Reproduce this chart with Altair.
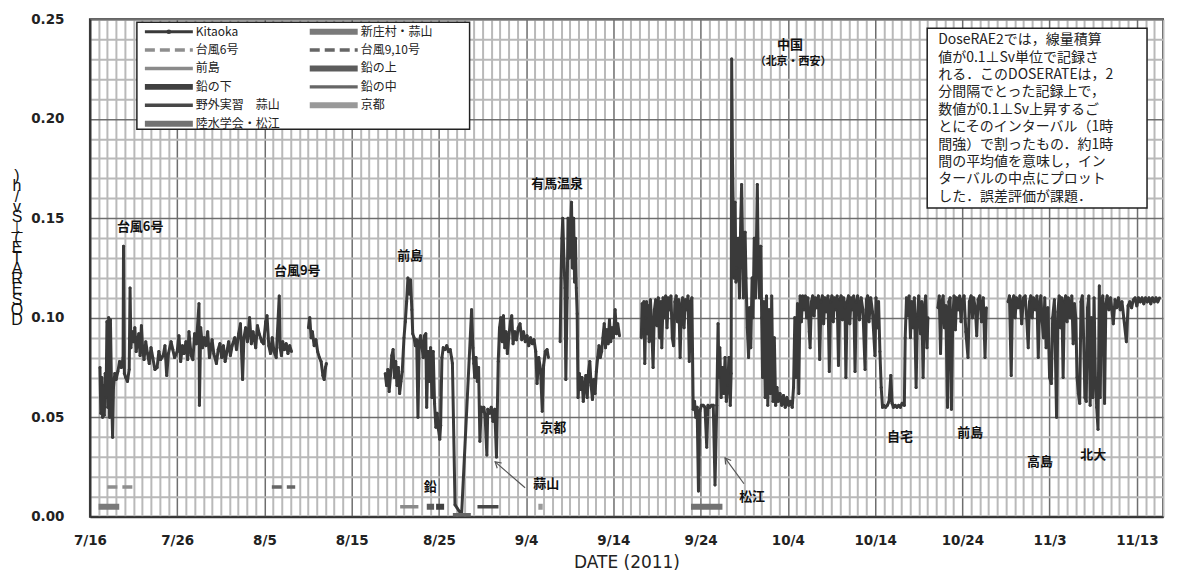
import altair as alt
import pandas as pd

BASE = pd.Timestamp("2011-07-16")

# ---- Kitaoka DOSERATE (uSv/h); (days after 2011-07-16 00:00, value) per continuous segment
seg1 = [(1.15,0.075),(1.25,0.052),(1.35,0.070),(1.45,0.050),(1.55,0.066),(1.65,0.051),(1.75,0.072),(1.85,0.060),
        (1.95,0.098),(2.05,0.055),(2.15,0.100),(2.25,0.050),(2.35,0.099),(2.5,0.058),(2.6,0.040),(2.7,0.065),
        (2.85,0.072),(3.0,0.069),(3.2,0.073),(3.4,0.078),(3.6,0.075),(3.8,0.080),(3.85,0.136),(3.95,0.072),
        (4.1,0.070),(4.3,0.068),(4.5,0.074),(4.6,0.115),(4.7,0.085),(4.85,0.093),(5.0,0.088),(5.15,0.095),
        (5.3,0.083),(5.45,0.088),(5.6,0.092),(5.75,0.081),(5.9,0.096),(6.05,0.084),(6.2,0.079),(6.4,0.088),
        (6.6,0.082),(6.8,0.077),(7.0,0.085),(7.2,0.080),(7.45,0.074),(7.7,0.075),(7.9,0.083),(8.1,0.079),
        (8.4,0.081),(8.6,0.086),(8.8,0.071),(9.0,0.082),(9.3,0.088),(9.5,0.084),(9.7,0.080),(10.0,0.083),
        (10.2,0.091),(10.4,0.078),(10.6,0.086),(10.8,0.082),(11.0,0.088),(11.2,0.079),(11.35,0.093),(11.6,0.081),
        (11.8,0.079),(12.0,0.092),(12.2,0.087),(12.5,0.107),(12.55,0.056),(12.7,0.095),(12.9,0.085),(13.1,0.090),
        (13.3,0.086),(13.5,0.093),(13.7,0.080),(14.0,0.089),(14.2,0.082),(14.5,0.077),(14.7,0.084),(14.9,0.087),
        (15.1,0.080),(15.3,0.086),(15.5,0.078),(15.7,0.083),(15.9,0.088),(16.1,0.081),(16.3,0.086),(16.6,0.090),
        (16.8,0.084),(17.05,0.092),(17.25,0.097),(17.5,0.069),(17.65,0.090),(17.85,0.095),(18.05,0.088),(18.3,0.100),
        (18.5,0.087),(18.7,0.093),(19.0,0.085),(19.2,0.096),(19.4,0.092),(19.7,0.088),(19.9,0.087),(20.15,0.098),
        (20.3,0.101),(20.5,0.086),(20.7,0.082),(20.9,0.090),(21.1,0.083),(21.35,0.080),(21.7,0.111),(21.8,0.085),
        (21.95,0.081),(22.1,0.088),(22.3,0.084),(22.5,0.087),(22.7,0.082),(22.9,0.086),(23.1,0.083)]
seg2 = [(25.05,0.095),(25.2,0.100),(25.35,0.090),(25.5,0.093),(25.7,0.086),(25.9,0.089),(26.1,0.083),
        (26.3,0.080),(26.5,0.078),(26.7,0.071),(26.85,0.069),(27.0,0.075),(27.1,0.077)]
seg3 = [(33.85,0.072),(34.0,0.066),(34.15,0.074),(34.3,0.063),(34.45,0.071),(34.6,0.081),(34.75,0.084),(34.9,0.070),
        (35.05,0.078),(35.2,0.066),(35.35,0.075),(35.5,0.062),(35.65,0.068),(35.8,0.073),(36.0,0.090),(36.15,0.098),
        (36.3,0.108),(36.45,0.120),(36.6,0.112),(36.75,0.119),(36.9,0.104),(37.0,0.092),(37.15,0.090),(37.3,0.086),
        (37.45,0.089),(37.6,0.050),(37.75,0.088),(37.9,0.091),(38.05,0.086),(38.2,0.080),(38.35,0.091),(38.5,0.092),
        (38.6,0.055),(38.75,0.083),(38.9,0.068),(39.05,0.085),(39.2,0.060),(39.35,0.083),(39.5,0.057),(39.65,0.045),
        (39.8,0.052),(39.95,0.044),(40.1,0.039),(40.2,0.046),(40.35,0.080),(40.5,0.085),(40.7,0.084),(40.9,0.086),
        (41.1,0.083),(41.3,0.084),(41.45,0.080),(41.55,0.077),(41.85,0.006),(42.6,0.001),(43.75,0.104),(43.9,0.085),
        (44.0,0.077),(44.1,0.070),(44.25,0.080),(44.4,0.068),(44.55,0.075),(44.7,0.038),(44.85,0.055),(45.0,0.053),
        (45.15,0.055),(45.3,0.050),(45.5,0.031),(45.6,0.054),(45.8,0.052),(46.0,0.055),(46.2,0.048),(46.4,0.054),
        (46.6,0.030),(46.8,0.078),(46.95,0.095),(47.1,0.100),(47.25,0.088),(47.4,0.101),(47.55,0.085),(47.7,0.093),
        (47.85,0.082),(48.0,0.090),(48.2,0.098),(48.35,0.101),(48.5,0.087),(48.7,0.093),(48.9,0.089),(49.1,0.095),
        (49.3,0.097),(49.5,0.089),(49.7,0.093),(49.9,0.088),(50.1,0.091),(50.3,0.086),(50.5,0.090),(50.7,0.087),
        (50.9,0.089),(51.1,0.083),(51.25,0.067),(51.45,0.080),(51.65,0.074),(51.85,0.053),(52.0,0.076),(52.2,0.083),
        (52.4,0.084),(52.55,0.080)]
seg4 = [(53.9,0.088),(54.0,0.120),(54.1,0.140),(54.2,0.150),(54.3,0.134),(54.45,0.115),(54.55,0.069),(54.7,0.110),
        (54.8,0.150),(54.95,0.130),(55.05,0.142),(55.2,0.158),(55.3,0.125),(55.45,0.150),(55.55,0.118),(55.65,0.140),
        (55.75,0.115),(55.85,0.102),(55.95,0.060),(56.1,0.072),(56.25,0.064),(56.4,0.070),(56.55,0.058),(56.7,0.066),
        (56.85,0.071),(57.0,0.060),(57.15,0.073),(57.3,0.078),(57.45,0.066),(57.6,0.059),(57.75,0.069),(57.9,0.062),
        (58.05,0.073),(58.2,0.080),(58.35,0.086),(58.5,0.080),(58.65,0.083),(58.8,0.090),(58.95,0.097),(59.1,0.085),
        (59.25,0.094),(59.4,0.087),(59.55,0.099),(59.7,0.088),(59.85,0.095),(60.0,0.090),(60.2,0.104),(60.35,0.092),
        (60.5,0.097),(60.7,0.091)]
seg5 = [(63.2,0.090),(63.3,0.107),(63.4,0.094),(63.5,0.108),(63.6,0.077),(63.7,0.100),(63.8,0.108),(63.9,0.092),
        (64.0,0.106),(64.1,0.088),(64.25,0.109),(64.4,0.095),(64.55,0.075),(64.7,0.104),(64.85,0.109),(65.0,0.096),
        (65.15,0.110),(65.3,0.090),(65.45,0.108),(65.55,0.085),(65.7,0.110),(65.85,0.100),(66.0,0.111),(66.15,0.095),
        (66.3,0.110),(66.45,0.104),(66.6,0.111),(66.75,0.090),(66.9,0.086),(67.05,0.108),(67.2,0.111),(67.35,0.098),
        (67.5,0.109),(67.65,0.080),(67.8,0.106),(67.95,0.110),(68.1,0.095),(68.25,0.109),(68.4,0.104),(68.55,0.111),
        (68.7,0.078),(68.85,0.108),(69.0,0.110),(69.15,0.054),(69.3,0.058),(69.45,0.050),(69.6,0.055),(69.75,0.013),
        (69.9,0.053),(70.1,0.056),(70.3,0.056),(70.5,0.055),(70.7,0.035),(70.85,0.056),(71.05,0.055),(71.25,0.056),
        (71.45,0.056),(71.65,0.016),(71.85,0.056),(72.0,0.097),(72.1,0.070),(72.2,0.085),(72.35,0.060),(72.5,0.075),
        (72.65,0.062),(72.8,0.080),(72.95,0.058),(73.1,0.066),(73.25,0.080),(73.4,0.056),(73.5,0.072),(73.56,0.230),
        (73.65,0.180),(73.75,0.150),(73.85,0.120),(73.95,0.158),(74.05,0.118),(74.15,0.125),(74.3,0.140),(74.45,0.110),
        (74.6,0.150),(74.7,0.167),(74.8,0.140),(74.9,0.110),(75.0,0.135),(75.1,0.143),(75.2,0.120),(75.35,0.095),
        (75.5,0.080),(75.6,0.105),(75.75,0.085),(75.9,0.120),(76.0,0.100),(76.15,0.140),(76.3,0.110),(76.5,0.167),
        (76.6,0.130),(76.75,0.110),(76.9,0.136),(77.0,0.100),(77.1,0.070),(77.25,0.108),(77.4,0.060),(77.55,0.111),
        (77.7,0.056),(77.85,0.104),(78.0,0.062),(78.15,0.111),(78.3,0.058),(78.45,0.090),(78.6,0.056),(78.75,0.065),
        (78.9,0.058),(79.1,0.062),(79.3,0.056),(79.5,0.061),(79.7,0.055),(79.9,0.060),(80.1,0.056),(80.3,0.058),
        (80.5,0.055),(80.65,0.065),(80.8,0.100),(80.95,0.070),(81.1,0.107),(81.25,0.062),(81.4,0.111),(81.55,0.098),
        (81.7,0.111),(81.85,0.104),(82.0,0.111),(82.15,0.100),(82.3,0.110),(82.45,0.093),(82.55,0.085),(82.7,0.108),
        (82.85,0.111),(83.0,0.101),(83.15,0.110),(83.3,0.105),(83.5,0.111),(83.65,0.079),(83.8,0.108),(83.95,0.111),
        (84.1,0.097),(84.25,0.110),(84.4,0.103),(84.6,0.111),(84.75,0.073),(84.9,0.108),(85.05,0.111),(85.2,0.098),
        (85.35,0.110),(85.5,0.104),(85.65,0.111),(85.8,0.076),(85.95,0.109),(86.1,0.111),(86.25,0.099),(86.4,0.110),
        (86.55,0.105),(86.65,0.070),(86.8,0.108),(86.95,0.111),(87.1,0.097),(87.25,0.110),(87.4,0.104),(87.55,0.111),
        (87.7,0.073),(87.85,0.108),(88.0,0.111),(88.2,0.099),(88.4,0.110),(88.6,0.104),(88.85,0.074),(89.0,0.109),
        (89.15,0.111),(89.3,0.098),(89.5,0.110),(89.7,0.103),(89.98,0.081),(90.1,0.110),(90.25,0.095),(90.4,0.108),
        (90.55,0.083),(90.7,0.065),(90.85,0.055),(91.0,0.056),(91.2,0.055),(91.4,0.056),(91.6,0.058),(91.8,0.071),
        (91.95,0.057),(92.1,0.055),(92.3,0.056),(92.5,0.055),(92.7,0.056),(92.9,0.055),(93.1,0.057),(93.35,0.056),
        (93.45,0.090),(93.6,0.110),(93.75,0.101),(93.9,0.111),(94.05,0.090),(94.2,0.108),(94.35,0.095),(94.5,0.110),
        (94.7,0.065),(94.85,0.100),(95.0,0.111),(95.2,0.092),(95.35,0.108),(95.5,0.070),(95.65,0.105),(95.8,0.111),
        (95.95,0.085),(96.05,0.100)]
seg6 = [(97.2,0.105),(97.35,0.111),(97.5,0.082),(97.65,0.108),(97.8,0.111),(97.95,0.095),(98.1,0.106),(98.3,0.055),
        (98.45,0.108),(98.6,0.110),(98.75,0.054),(98.9,0.100),(99.05,0.111),(99.2,0.094),(99.35,0.110),(99.5,0.104),
        (99.7,0.111),(99.85,0.098),(100.0,0.109),(100.2,0.111),(100.4,0.093),(100.65,0.080),(100.8,0.108),(101.0,0.111),
        (101.15,0.100),(101.3,0.110),(101.5,0.104),(101.65,0.091),(101.8,0.109),(102.0,0.111),(102.2,0.098),(102.4,0.110),
        (102.6,0.080),(102.75,0.105)]
seg7 = [(105.25,0.108),(105.4,0.111),(105.6,0.071),(105.75,0.109),(105.9,0.111),(106.05,0.100),(106.2,0.110),
        (106.4,0.105),(106.6,0.111),(106.8,0.097),(107.0,0.110),(107.2,0.111),(107.35,0.102),(107.55,0.085),(107.7,0.108),
        (107.85,0.111),(108.0,0.100),(108.15,0.110),(108.35,0.104),(108.55,0.111),(108.7,0.080),(108.85,0.107),(109.0,0.111),
        (109.15,0.098),(109.3,0.090),(109.45,0.110),(109.6,0.085),(109.8,0.105),(110.0,0.070),(110.2,0.067),(110.35,0.100),
        (110.55,0.109),(110.8,0.050),(110.95,0.103),(111.1,0.111),(111.25,0.095),(111.4,0.110),(111.55,0.070),(111.7,0.108),
        (111.85,0.111),(112.0,0.098),(112.15,0.110),(112.35,0.100),(112.55,0.111),(112.7,0.087),(112.85,0.107),(113.0,0.100),
        (113.15,0.070),(113.3,0.062),(113.45,0.057),(113.6,0.108),(113.75,0.111),(113.9,0.090),(114.05,0.060),(114.2,0.058),
        (114.35,0.105),(114.5,0.111),(114.65,0.056),(114.8,0.100),(114.95,0.060),(115.1,0.110),(115.25,0.070),(115.4,0.055),
        (115.55,0.044),(115.7,0.116),(115.8,0.060),(115.95,0.108),(116.1,0.111),(116.3,0.057),(116.45,0.107),(116.6,0.111),
        (116.8,0.104),(117.0,0.110),(117.3,0.097),(117.5,0.109),(117.7,0.105),(117.9,0.110),(118.1,0.104),(118.3,0.108),
        (118.5,0.100),(118.8,0.088),(119.0,0.106),(119.2,0.108),(119.4,0.105),(119.6,0.109),(119.8,0.110),(120.0,0.106),
        (120.2,0.110),(120.4,0.108),(120.6,0.110),(120.8,0.107),(121.0,0.110),(121.2,0.108),(121.4,0.110),(121.6,0.107),
        (121.8,0.110),(122.0,0.108),(122.2,0.110),(122.4,0.108),(122.6,0.110)]
kitaoka_segments = [seg1, seg2, seg3, seg4, seg5, seg6, seg7]

# ---- legend series
series_names = ["Kitaoka", "新庄村・蒜山", "台風6号", "台風9,10号", "前島", "鉛の上",
                "鉛の下", "鉛の中", "野外実習　蒜山", "京都", "陸水学会・松江"]
series_colors = ["#3a3a3a", "#7a7a7a", "#8e8e8e", "#666666", "#8a8a8a", "#5c5c5c",
                 "#404040", "#666666", "#474747", "#999999", "#727272"]
series_widths = [3, 6, 3.5, 3.5, 3.5, 6, 6, 3.5, 3.5, 6, 6]
series_dashes = [[1, 0], [1, 0], [10, 5], [10, 5], [1, 0], [1, 0],
                 [1, 0], [1, 0], [1, 0], [1, 0], [1, 0]]

# ---- event periods (bars near the bottom)
event_names = ["新庄村・蒜山", "台風6号", "台風9,10号", "前島", "鉛の上", "鉛の下",
               "鉛の中", "野外実習　蒜山", "京都", "陸水学会・松江"]
event_start = [0.99, 2.0, 20.85, 35.56, 38.61, 39.68, 41.6, 44.42, 51.4, 68.9]
event_end = [3.36, 5.08, 23.53, 37.65, 39.45, 40.6, 43.66, 46.83, 51.9, 72.5]
event_level = [0.005, 0.015, 0.015, 0.005, 0.005, 0.005, 0.001, 0.005, 0.005, 0.005]

# ---- annotations
annot_text = ["台風6号", "台風9号", "前島", "有馬温泉", "中国", "（北京・西安）", "京都",
              "蒜山", "鉛", "松江", "自宅", "前島", "高島", "北大"]
annot_day = [5.76, 23.77, 36.7, 53.55, 80.25, 80.6, 53.1, 52.3, 39.0, 75.9, 92.85, 100.9, 108.9, 115.0]
annot_val = [0.1456, 0.1235, 0.131, 0.167, 0.237, 0.2284, 0.0447, 0.0166, 0.0151, 0.010,
             0.040, 0.042, 0.0276, 0.0311]
annot_fs = [13, 13, 13, 13, 13, 11, 13, 13, 13, 13, 13, 13, 13, 13]

arrow_tip_day = [46.45, 72.8]
arrow_tip_val = [0.0276, 0.0296]
arrow_tail_day = [49.88, 74.97]
arrow_tail_val = [0.0146, 0.0166]
arrow_angle = [311, 324]

note_lines = ["DoseRAE2では，線量積算",
              "値が0.1⊥Sv単位で記録さ",
              "れる．このDOSERATEは，2",
              "分間隔でとった記録上で，",
              "数値が0.1⊥Sv上昇するご",
              "とにそのインターバル（1時",
              "間強）で割ったもの．約1時",
              "間の平均値を意味し，イン",
              "ターバルの中点にプロット",
              "した．誤差評価が課題．"]
ytitle_chars = [")", "h", "/", "v", "S", "⊥", "(", "E", "T", "A", "R", "E", "S", "O", "D"]


def to_date(d):
    return BASE + pd.to_timedelta(d, unit="D")


rows = []
for i, seg in enumerate(kitaoka_segments):
    for d, v in seg:
        rows.append({"date": to_date(d), "value": v, "series": "Kitaoka", "seg": i})
kit_df = pd.DataFrame(rows)

ev_df = pd.DataFrame({"series": event_names,
                      "start": [to_date(d) for d in event_start],
                      "end": [to_date(d) for d in event_end],
                      "level": event_level})
ann_df = pd.DataFrame({"label": annot_text, "date": [to_date(d) for d in annot_day],
                       "value": annot_val, "fs": annot_fs})
arr_df = pd.DataFrame({"tip": [to_date(d) for d in arrow_tip_day], "tip_val": arrow_tip_val,
                       "tail": [to_date(d) for d in arrow_tail_day], "tail_val": arrow_tail_val,
                       "ang": arrow_angle})
one = pd.DataFrame({"k": [1]})

# legend entries laid out in a 2-column grid (layout only; pixel offsets inside the plot area)
leg_df = pd.DataFrame({"series": series_names, "idx": list(range(len(series_names)))})
leg_df["col"] = leg_df["idx"] % 2
leg_df["row"] = leg_df["idx"] // 2
leg_df["sx"] = 55 + leg_df["col"] * 165
leg_df["sx2"] = leg_df["sx"] + 48
leg_df["mx"] = leg_df["sx"] + 24
leg_df["lx"] = leg_df["sx"] + 51
leg_df["ly"] = 12.5 + leg_df["row"] * 18.4

xscale = alt.Scale(domain=[alt.DateTime(year=2011, month=7, date=16),
                           alt.DateTime(year=2011, month=11, date=16)])
yscale = alt.Scale(domain=[0, 0.25], nice=False)

major_x = "(dayofyear(datum.value) - 197) % 10 == 0"
major_y = "round(datum.value * 100) % 5 == 0"

x_axis = alt.Axis(
    title="DATE (2011)", tickCount={"interval": "day", "step": 1},
    labelExpr=f"{major_x} ? timeFormat(datum.value, '%-m/%-d') : ''",
    gridColor={"condition": {"test": major_x, "value": "#6e6e6e"}, "value": "#b9b9b9"},
    gridWidth={"condition": {"test": major_x, "value": 1.5}, "value": 2},
    ticks=False, tickSize=0, labelPadding=17, labelOverlap=False, labelFlush=False,
    labelFont="DejaVu Sans", labelFontSize=13.5, labelFontWeight="bold", labelColor="#222222",
    titleFont="DejaVu Sans", titleFontSize=17, titleFontWeight="normal", titleColor="#222222",
    titlePadding=7, domainColor="#333333", domainWidth=2,
)
y_axis = alt.Axis(
    title=None, values=[round(i * 0.01, 2) for i in range(26)],
    labelExpr=f"{major_y} ? format(datum.value, '.2f') : ''",
    gridColor={"condition": {"test": major_y, "value": "#6e6e6e"}, "value": "#b9b9b9"},
    gridWidth={"condition": {"test": major_y, "value": 1.5}, "value": 2},
    ticks=False, tickSize=0, labelPadding=26, labelOverlap=False, labelFlush=False,
    labelFont="DejaVu Sans", labelFontSize=13.5, labelFontWeight="bold", labelColor="#222222",
    domainColor="#333333", domainWidth=2,
)

color_enc = alt.Color("series:N", scale=alt.Scale(domain=series_names, range=series_colors), legend=None)
dash_enc = alt.StrokeDash("series:N", scale=alt.Scale(domain=series_names, range=series_dashes), legend=None)
width_enc = alt.StrokeWidth("series:N", scale=alt.Scale(type="ordinal", domain=series_names, range=series_widths),
                            legend=None)

line = alt.Chart(kit_df).mark_line(
    point=alt.OverlayMarkDef(filled=True, size=9), strokeJoin="round"
).encode(
    x=alt.X("date:T", scale=xscale, axis=x_axis),
    y=alt.Y("value:Q", scale=yscale, axis=y_axis),
    color=color_enc, strokeDash=dash_enc, strokeWidth=width_enc, detail="seg:N",
)

rules = alt.Chart(ev_df).mark_rule(strokeCap="butt").encode(
    x=alt.X("start:T", scale=xscale, axis=x_axis), x2="end:T",
    y=alt.Y("level:Q", scale=yscale, axis=y_axis),
    color=color_enc, strokeDash=dash_enc, strokeWidth=width_enc,
)

ann = alt.Chart(ann_df).mark_text(font="Noto Sans CJK JP", fontWeight="bold", color="#111111").encode(
    x=alt.X("date:T", scale=xscale, axis=x_axis),
    y=alt.Y("value:Q", scale=yscale, axis=y_axis),
    text="label:N", size=alt.Size("fs:Q", scale=None),
)

arrow_lines = alt.Chart(arr_df).mark_rule(color="#555555", strokeWidth=1.2).encode(
    x=alt.X("tail:T", scale=xscale, axis=x_axis), x2="tip:T",
    y=alt.Y("tail_val:Q", scale=yscale, axis=y_axis), y2="tip_val:Q",
)
arrow_heads = alt.Chart(arr_df).mark_point(
    shape="M-0.6,1L0,0L0.6,1", filled=False, color="#555555", strokeWidth=1.2, size=130, opacity=1
).encode(
    x=alt.X("tip:T", scale=xscale, axis=x_axis),
    y=alt.Y("tip_val:Q", scale=yscale, axis=y_axis),
    angle=alt.Angle("ang:Q", scale=None),
)

# ---- legend (drawn with the same colour / dash / width scales)
leg_box = alt.Chart(one).mark_rect(fill="white", stroke="#222222", strokeWidth=1.5).encode(
    x=alt.value(47), x2=alt.value(380), y=alt.value(3), y2=alt.value(110))
leg_sym = alt.Chart(leg_df).mark_rule(strokeCap="butt").encode(
    x=alt.X("sx:Q", scale=None), x2="sx2:Q", y=alt.Y("ly:Q", scale=None),
    color=color_enc, strokeDash=dash_enc, strokeWidth=width_enc,
)
leg_dot = alt.Chart(leg_df).transform_filter(alt.datum.series == "Kitaoka").mark_point(
    filled=True, size=22, opacity=1
).encode(x=alt.X("mx:Q", scale=None), y=alt.Y("ly:Q", scale=None), color=color_enc)
leg_lab = alt.Chart(leg_df).mark_text(
    align="left", baseline="middle", font="Noto Sans CJK JP", fontSize=12, color="#222222"
).encode(x=alt.X("lx:Q", scale=None), y=alt.Y("ly:Q", scale=None), text="series:N")

note_box = alt.Chart(one).mark_rect(fill="white", stroke="#222222", strokeWidth=1.5).encode(
    x=alt.value(838), x2=alt.value(1058), y=alt.value(9), y2=alt.value(189))
note_text = alt.Chart(one).mark_text(
    align="left", baseline="top", lineHeight=17.4, fontSize=14, font="Noto Sans CJK JP", color="#222222"
).encode(x=alt.value(849), y=alt.value(14), text=alt.value(note_lines))

ytitle = alt.Chart(one).mark_text(
    align="center", baseline="top", lineHeight=10.3, fontSize=16, font="Liberation Sans", color="#111111"
).encode(x=alt.value(-73), y=alt.value(149), text=alt.value(ytitle_chars))

chart = alt.layer(
    line, rules, ann, arrow_lines, arrow_heads, leg_box, leg_sym, leg_dot, leg_lab,
    note_box, note_text, ytitle
).properties(
    width=1074, height=498,
    padding={"left": 82, "top": 11, "right": 6, "bottom": 57},
    autosize=alt.AutoSizeParams(type="none"),
).configure(background="white").configure_view(stroke="#333333", strokeWidth=2)

chart.save("out.html", embed_options={"renderer": "svg", "actions": False})
